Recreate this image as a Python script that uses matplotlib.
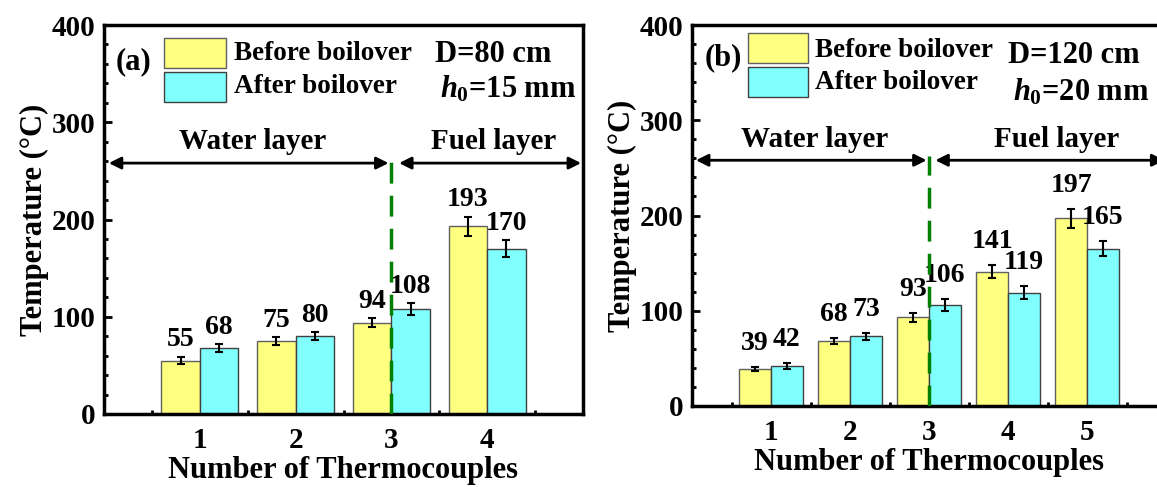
import numpy as np
import matplotlib.pyplot as plt
from matplotlib.patches import Rectangle

plt.rcParams['font.family'] = ['Liberation Serif', 'DejaVu Serif']
plt.rcParams['font.weight'] = 'bold'
plt.rcParams['axes.labelweight'] = 'bold'
plt.rcParams['mathtext.fontset'] = 'custom'
plt.rcParams['mathtext.it'] = 'Liberation Serif:italic:bold'
plt.rcParams['mathtext.rm'] = 'Liberation Serif:bold'

# panel (a): D=80 cm
tc_a = [1, 2, 3, 4]
before_a = [55, 75, 94, 193]
after_a = [68, 80, 108, 170]
before_err_a = [4, 4, 5, 10]
after_err_a = [4, 4, 6, 9]

# panel (b): D=120 cm
tc_b = [1, 2, 3, 4, 5]
before_b = [39, 68, 93, 141, 197]
after_b = [42, 73, 106, 119, 165]
before_err_b = [2, 3, 5, 7, 10]
after_err_b = [3, 4, 6, 7, 8]

YELLOW = '#ffff80'
CYAN = '#80ffff'

W, H = 1157, 487
fig = plt.figure(figsize=(W / 100, H / 100), dpi=100)


def px_axes(left, right, top, bottom):
    return fig.add_axes([left / W, 1 - bottom / H, (right - left) / W, (bottom - top) / H])


def panel(ax, tc, before, after, be, ae, xmax, tag, dtext, htext, lab_off, fuel_x, leg):
    x = np.array(tc, dtype=float)
    w = 0.4
    ax.bar(x - w / 2, before, w, color=YELLOW, edgecolor='#606060', lw=1, zorder=2)
    ax.bar(x + w / 2, after, w, color=CYAN, edgecolor='#404040', lw=1, zorder=2)
    ax.errorbar(x - w / 2, before, yerr=be, fmt='none', ecolor='k', elinewidth=1.5,
                capsize=3, capthick=1.5, zorder=3)
    ax.errorbar(x + w / 2, after, yerr=ae, fmt='none', ecolor='k', elinewidth=1.5,
                capsize=3, capthick=1.5, zorder=3)
    for xi, v, e in zip(x - w / 2, before, be):
        ax.annotate(str(v), (xi, v + e), xytext=(0, lab_off), textcoords='offset points',
                    ha='center', va='bottom', fontsize=20)
    for xi, v, e in zip(x + w / 2, after, ae):
        ax.annotate(str(v), (xi, v + e), xytext=(0, lab_off), textcoords='offset points',
                    ha='center', va='bottom', fontsize=20)

    ax.set_xlim(0, xmax)
    ax.set_ylim(0, 400)
    ax.set_xticks(tc)
    ax.set_xticks(np.arange(0.5, xmax, 1.0), minor=True)
    ax.set_yticks([0, 100, 200, 300, 400])
    ax.set_yticks(np.arange(0, 401, 20), minor=True)
    ax.tick_params(which='both', direction='in', labelsize=21, width=2, top=False, right=False)
    ax.tick_params(which='major', length=0, axis='x', pad=9)
    ax.tick_params(which='major', length=6, axis='y', pad=6)
    ax.tick_params(which='minor', length=3)
    for s in ax.spines.values():
        s.set_linewidth(2.5)
    ax.set_xlabel('Number of Thermocouples', fontsize=22, labelpad=2)
    ax.set_ylabel('Temperature (°C)', fontsize=22, labelpad=2)

    # layer division
    ax.plot([3, 3], [0, 262], color='green', lw=2.5, ls=(0, (6, 3.5)), zorder=4)
    ax.annotate('', xy=(0.05, 258), xytext=(2.97, 258),
                arrowprops=dict(arrowstyle='<|-|>', color='k', lw=2, mutation_scale=18,
                                shrinkA=0, shrinkB=0))
    ax.annotate('', xy=(3.08, 258), xytext=(xmax - 0.02, 258),
                arrowprops=dict(arrowstyle='<|-|>', color='k', lw=2, mutation_scale=18,
                                shrinkA=0, shrinkB=0))
    ax.text(1.55, 266, 'Water layer', ha='center', va='bottom', fontsize=21)
    ax.text(fuel_x, 266, 'Fuel layer', ha='center', va='bottom', fontsize=21)

    # legend drawn by hand, positions in axes fractions
    px0, px1, yy0, yy1, cy0, cy1, tx, ty1, ty2, tagx, tagy, dx, dy1, dy2 = leg
    ta = ax.transAxes
    ax.add_patch(Rectangle((px0, yy0), px1 - px0, yy1 - yy0, transform=ta,
                           facecolor=YELLOW, edgecolor='#606060', lw=1))
    ax.add_patch(Rectangle((px0, cy0), px1 - px0, cy1 - cy0, transform=ta,
                           facecolor=CYAN, edgecolor='#404040', lw=1))
    ax.text(tx, ty1, 'Before boilover', transform=ta, ha='left', va='center', fontsize=19.5)
    ax.text(tx, ty2, 'After boilover', transform=ta, ha='left', va='center', fontsize=19.5)
    ax.text(tagx, tagy, tag, transform=ta, ha='center', va='center', fontsize=22)
    ax.text(dx, dy1, dtext, transform=ta, ha='left', va='center', fontsize=22)
    ax.text(dx + 0.01, dy2, htext, transform=ta, ha='left', va='center', fontsize=22)


ax1 = px_axes(104, 583, 25, 414)
panel(ax1, tc_a, before_a, after_a, before_err_a, after_err_a, 5, '(a)',
      'D=80 cm', r'$h_0$=15 mm', 3, 4.07,
      (0.125, 0.255, 0.889, 0.967, 0.802, 0.879, 0.271, 0.928, 0.841, 0.062, 0.905,
       0.691, 0.925, 0.836))

ax2 = px_axes(692, 1166, 25, 406)
panel(ax2, tc_b, before_b, after_b, before_err_b, after_err_b, 6, '(b)',
      'D=120 cm', r'$h_0$=20 mm', 8, 4.62,
      (0.118, 0.245, 0.900, 0.979, 0.811, 0.890, 0.259, 0.934, 0.848, 0.066, 0.913,
       0.667, 0.921, 0.824))

fig.savefig('out.png', dpi=100)
